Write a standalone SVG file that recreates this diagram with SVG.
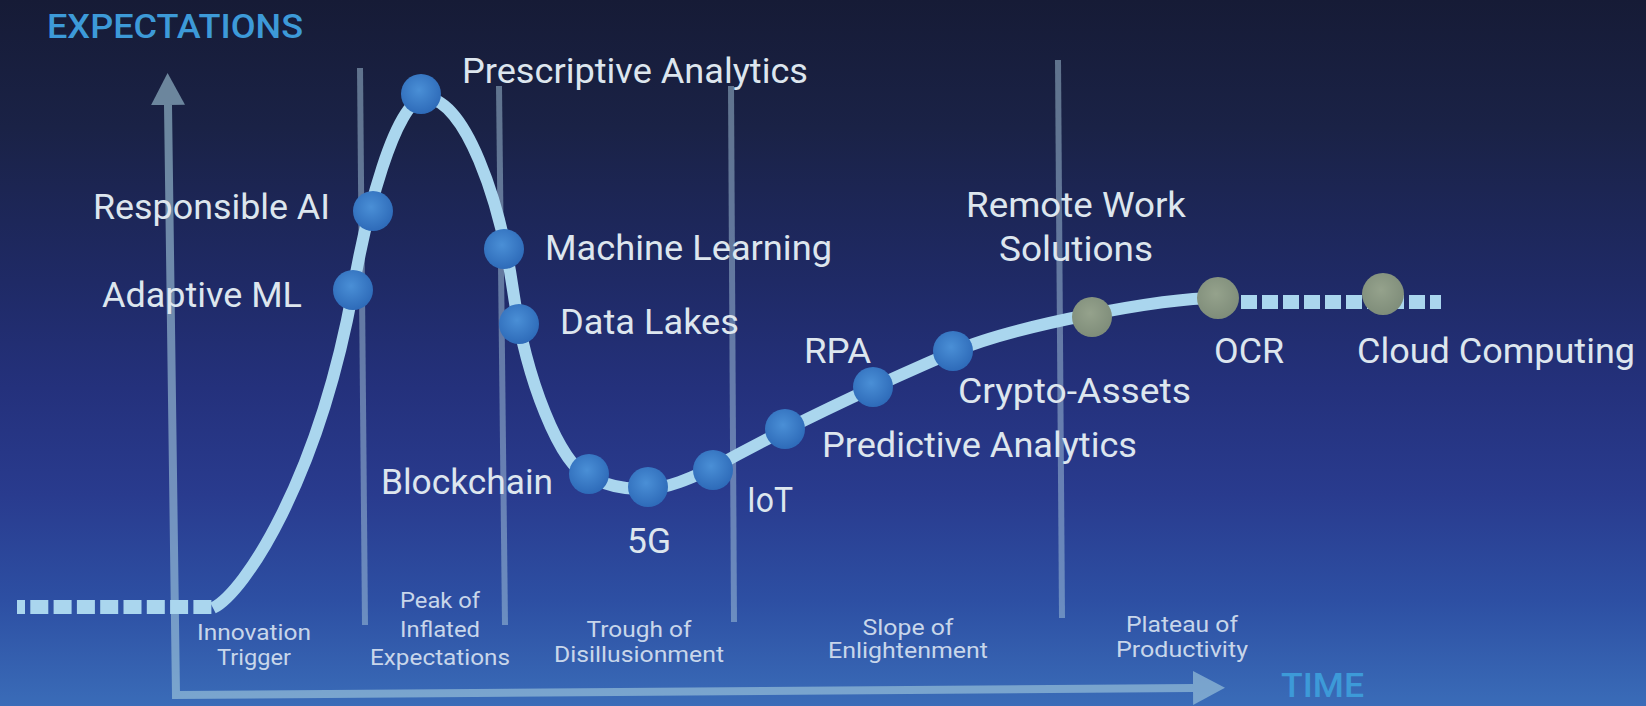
<svg xmlns="http://www.w3.org/2000/svg" width="1646" height="706" viewBox="0 0 1646 706">
<defs>
  <linearGradient id="bg" x1="0" y1="0" x2="0" y2="1">
    <stop offset="0" stop-color="#161b36"/>
    <stop offset="0.18" stop-color="#1a2246"/>
    <stop offset="0.4" stop-color="#1f2a66"/>
    <stop offset="0.55" stop-color="#24317c"/>
    <stop offset="0.7" stop-color="#293b8e"/>
    <stop offset="0.85" stop-color="#2d4fa3"/>
    <stop offset="1" stop-color="#3a6cb8"/>
  </linearGradient>
  <radialGradient id="dotBlue" cx="0.45" cy="0.4" r="0.6">
    <stop offset="0" stop-color="#4a8fd6"/>
    <stop offset="1" stop-color="#2e6bb9"/>
  </radialGradient>
  <radialGradient id="dotOlive" cx="0.45" cy="0.4" r="0.6">
    <stop offset="0" stop-color="#95a28c"/>
    <stop offset="1" stop-color="#7f8d7a"/>
  </radialGradient>
  <marker id="arrow" markerUnits="userSpaceOnUse" markerWidth="32" markerHeight="34" viewBox="0 0 32 34" refX="0" refY="17" orient="auto-start-reverse">
    <path d="M0,0 L32,17 L0,34 Z" fill="#a8d0e0" fill-opacity="0.58"/>
  </marker>
</defs>
<style>
  .lbl { font-family: Roboto, "Liberation Sans", sans-serif; font-size: 35px; fill: #dde6ee; }
  .phase { font-family: Roboto, "Liberation Sans", sans-serif; font-size: 22px; fill: #c8d6ea; text-anchor: middle; }
  .axislbl { font-family: Roboto, "Liberation Sans", sans-serif; font-weight: 500; font-size: 34px; fill: #3d9ad8; }
  .sep { stroke: #a8c8dc; stroke-opacity: 0.5; stroke-width: 6; fill: none; }
  .axis { stroke: #a8d0e0; stroke-opacity: 0.58; stroke-width: 8; fill: none; }
  .curve { fill: none; stroke: #aad6ee; stroke-width: 12; }
  .dash { stroke: #aad6ee; stroke-width: 14; fill: none; }
  .dot-b { fill: url(#dotBlue); }
  .dot-o { fill: url(#dotOlive); }
</style>

<rect x="0" y="0" width="1646" height="706" fill="url(#bg)"/>

<g id="separators">
  <line class="sep" x1="360" y1="68" x2="365" y2="625"/>
  <line class="sep" x1="499" y1="86" x2="505" y2="625"/>
  <line class="sep" x1="731" y1="86" x2="734" y2="622"/>
  <line class="sep" x1="1058" y1="60" x2="1062" y2="618"/>
</g>

<g id="axes">
  <path class="axis" d="M168,105 L176,695 L1193,688" marker-start="url(#arrow)" marker-end="url(#arrow)"/>
  <text class="axislbl" x="47" y="38" textLength="256" lengthAdjust="spacingAndGlyphs">EXPECTATIONS</text>
  <text class="axislbl" x="1281" y="697" textLength="83" lengthAdjust="spacingAndGlyphs">TIME</text>
</g>

<g id="connectors">
  <line class="dash" x1="17" y1="607" x2="213" y2="607" stroke-dasharray="18 5.3" stroke-dashoffset="10"/>
  <path class="curve" d="M213,608 C245,592 318,480 353,290 C365,220 395,98 425,98 C465,98 500,200 513,290 C526,380 560,465 589,477 C610,487 630,490 648,489 C670,488 695,476 713,468 C760,442 830,405 953,352 C1013,326 1160,298 1218,298"/>
  <line class="dash" x1="1241" y1="302" x2="1441" y2="302" stroke-dasharray="16 5"/>
</g>

<g id="phases">
  <g id="phase-innovation">
    <text class="phase" x="254" y="640" textLength="114" lengthAdjust="spacingAndGlyphs">Innovation</text>
    <text class="phase" x="254" y="665" textLength="74" lengthAdjust="spacingAndGlyphs">Trigger</text>
  </g>
  <g id="phase-peak">
    <text class="phase" x="440" y="608" textLength="80" lengthAdjust="spacingAndGlyphs">Peak of</text>
    <text class="phase" x="440" y="637" textLength="80" lengthAdjust="spacingAndGlyphs">Inflated</text>
    <text class="phase" x="440" y="665" textLength="140" lengthAdjust="spacingAndGlyphs">Expectations</text>
  </g>
  <g id="phase-trough">
    <text class="phase" x="639" y="637" textLength="105" lengthAdjust="spacingAndGlyphs">Trough of</text>
    <text class="phase" x="639" y="662" textLength="170" lengthAdjust="spacingAndGlyphs">Disillusionment</text>
  </g>
  <g id="phase-slope">
    <text class="phase" x="908" y="635" textLength="91" lengthAdjust="spacingAndGlyphs">Slope of</text>
    <text class="phase" x="908" y="658" textLength="160" lengthAdjust="spacingAndGlyphs">Enlightenment</text>
  </g>
  <g id="phase-plateau">
    <text class="phase" x="1182" y="632" textLength="112" lengthAdjust="spacingAndGlyphs">Plateau of</text>
    <text class="phase" x="1182" y="657" textLength="132" lengthAdjust="spacingAndGlyphs">Productivity</text>
  </g>
</g>

<g id="node-adaptive-ml">
  <circle class="dot-b" cx="353" cy="290" r="20"/>
  <text class="lbl" x="102" y="307" textLength="200" lengthAdjust="spacingAndGlyphs">Adaptive ML</text>
</g>
<g id="node-responsible-ai">
  <circle class="dot-b" cx="373" cy="211" r="20"/>
  <text class="lbl" x="93" y="219" textLength="237" lengthAdjust="spacingAndGlyphs">Responsible AI</text>
</g>
<g id="node-prescriptive-analytics">
  <circle class="dot-b" cx="421" cy="94" r="20"/>
  <text class="lbl" x="462" y="83" textLength="346" lengthAdjust="spacingAndGlyphs">Prescriptive Analytics</text>
</g>
<g id="node-machine-learning">
  <circle class="dot-b" cx="504" cy="249" r="20"/>
  <text class="lbl" x="545" y="260" textLength="287" lengthAdjust="spacingAndGlyphs">Machine Learning</text>
</g>
<g id="node-data-lakes">
  <circle class="dot-b" cx="519" cy="324" r="20"/>
  <text class="lbl" x="560" y="334" textLength="179" lengthAdjust="spacingAndGlyphs">Data Lakes</text>
</g>
<g id="node-blockchain">
  <circle class="dot-b" cx="589" cy="474" r="20"/>
  <text class="lbl" x="381" y="494" textLength="172" lengthAdjust="spacingAndGlyphs">Blockchain</text>
</g>
<g id="node-5g">
  <circle class="dot-b" cx="648" cy="487" r="20"/>
  <text class="lbl" x="627" y="553" textLength="44" lengthAdjust="spacingAndGlyphs">5G</text>
</g>
<g id="node-iot">
  <circle class="dot-b" cx="713" cy="470" r="20"/>
  <text class="lbl" x="747" y="512" textLength="46" lengthAdjust="spacingAndGlyphs">IoT</text>
</g>
<g id="node-predictive-analytics">
  <circle class="dot-b" cx="785" cy="429" r="20"/>
  <text class="lbl" x="822" y="457" textLength="315" lengthAdjust="spacingAndGlyphs">Predictive Analytics</text>
</g>
<g id="node-rpa">
  <circle class="dot-b" cx="873" cy="387" r="20"/>
  <text class="lbl" x="804" y="363" textLength="67" lengthAdjust="spacingAndGlyphs">RPA</text>
</g>
<g id="node-crypto-assets">
  <circle class="dot-b" cx="953" cy="351" r="20"/>
  <text class="lbl" x="958" y="403" textLength="233" lengthAdjust="spacingAndGlyphs">Crypto-Assets</text>
</g>
<g id="node-remote-work">
  <circle class="dot-o" cx="1092" cy="317" r="20"/>
  <text class="lbl" x="966" y="217" textLength="220" lengthAdjust="spacingAndGlyphs">Remote Work</text>
  <text class="lbl" x="999" y="261" textLength="154" lengthAdjust="spacingAndGlyphs">Solutions</text>
</g>
<g id="node-ocr">
  <circle class="dot-o" cx="1218" cy="298" r="21"/>
  <text class="lbl" x="1214" y="363" textLength="70" lengthAdjust="spacingAndGlyphs">OCR</text>
</g>
<g id="node-cloud-computing">
  <circle class="dot-o" cx="1383" cy="294" r="21"/>
  <text class="lbl" x="1357" y="363" textLength="278" lengthAdjust="spacingAndGlyphs">Cloud Computing</text>
</g>
</svg>
